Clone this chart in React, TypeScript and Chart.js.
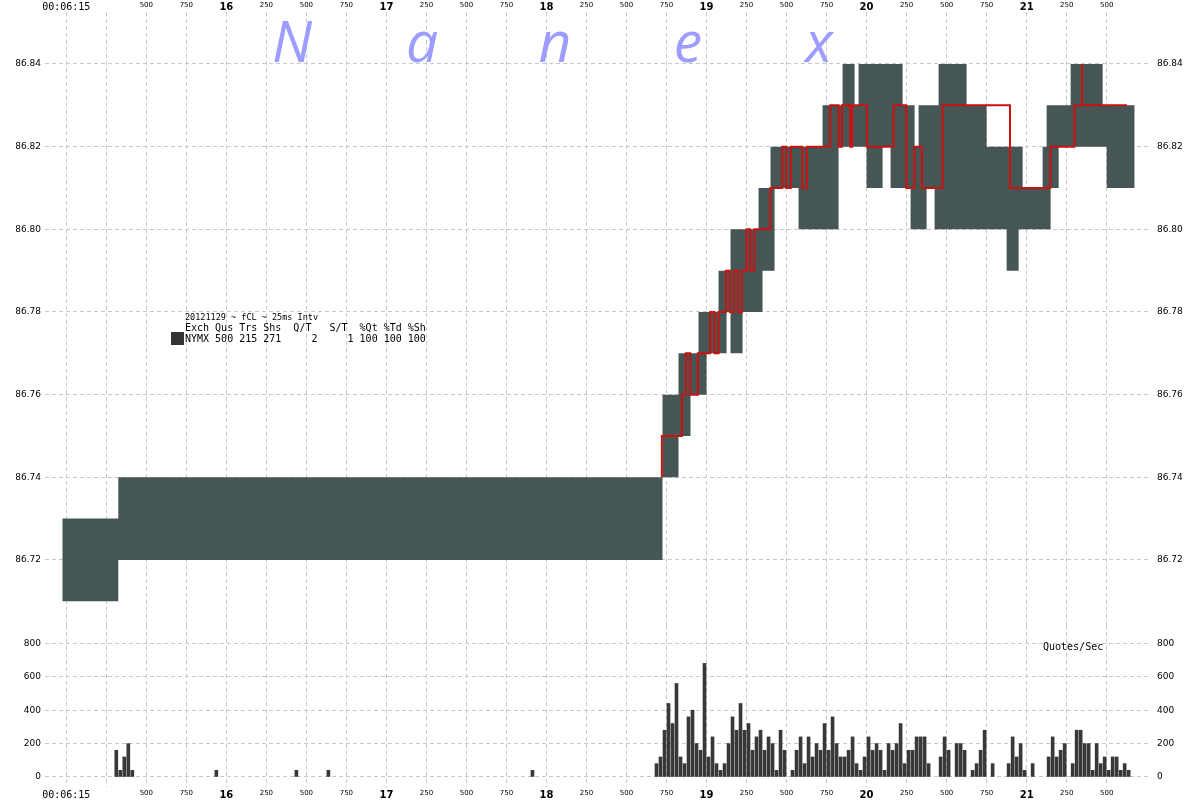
import React, { useEffect, useRef } from 'react';
import { Chart, registerables } from 'chart.js';

Chart.register(...registerables);

// ---- data (time in ms after 00:06:15.000) ----
const X_TICKS_MS = [0, 250, 500, 750, 1000, 1250, 1500, 1750, 2000, 2250, 2500, 2750, 3000, 3250, 3500, 3750, 4000, 4250, 4500, 4750, 5000, 5250, 5500, 5750, 6000, 6250, 6500];
const PRICE_TICKS = [86.72, 86.74, 86.76, 86.78, 86.8, 86.82, 86.84];
const QPS_TICKS = [0, 200, 400, 600, 800];

// quote range blocks (25ms buckets): start time, high, low
const blockStartMs = [-25, 325, 3725, 3825, 3900, 3950, 4000, 4075, 4125, 4150, 4225, 4325, 4350, 4400, 4425, 4575, 4725, 4825, 4850, 4925, 4950, 5000, 5100, 5150, 5225, 5275, 5300, 5325, 5375, 5425, 5450, 5625, 5750, 5875, 5950, 5975, 6100, 6125, 6150, 6200, 6275, 6475, 6500];
const blockHigh = [86.73, 86.74, 86.76, 86.77, 86.77, 86.78, 86.78, 86.79, 86.79, 86.8, 86.8, 86.81, 86.81, 86.82, 86.82, 86.82, 86.83, 86.83, 86.84, 86.83, 86.84, 86.84, 86.84, 86.84, 86.83, 86.83, 86.82, 86.83, 86.83, 86.83, 86.84, 86.83, 86.82, 86.82, 86.82, 86.81, 86.82, 86.83, 86.83, 86.83, 86.84, 86.83, 86.83];
const blockLow = [86.71, 86.72, 86.74, 86.75, 86.76, 86.76, 86.77, 86.77, 86.78, 86.77, 86.78, 86.78, 86.79, 86.79, 86.81, 86.8, 86.8, 86.82, 86.82, 86.82, 86.82, 86.81, 86.82, 86.81, 86.81, 86.8, 86.8, 86.8, 86.81, 86.8, 86.8, 86.8, 86.8, 86.79, 86.8, 86.8, 86.8, 86.8, 86.81, 86.82, 86.82, 86.82, 86.81];
const blockEndMs = 6675;

// trades (step line)
const tradeMs = [3721, 3721, 3846, 3871, 3898, 3946, 4023, 4050, 4075, 4121, 4146, 4171, 4196, 4221, 4250, 4273, 4298, 4398, 4473, 4498, 4527, 4598, 4627, 4773, 4825, 4846, 4898, 4910, 5002, 5169, 5248, 5298, 5346, 5475, 5896, 6148, 6298, 6346, 6346, 6627];
const tradePrice = [86.74, 86.75, 86.76, 86.77, 86.76, 86.77, 86.78, 86.77, 86.78, 86.79, 86.78, 86.79, 86.78, 86.79, 86.8, 86.79, 86.8, 86.81, 86.82, 86.81, 86.82, 86.81, 86.82, 86.83, 86.82, 86.83, 86.82, 86.83, 86.82, 86.83, 86.81, 86.82, 86.81, 86.83, 86.81, 86.82, 86.83, 86.84, 86.83, 86.83];

// quotes per second, per 25ms bucket (bucket start time)
const quoteMs = [300, 325, 350, 375, 400, 925, 1425, 1625, 2900,
  3675, 3700, 3725, 3750, 3775, 3800, 3825, 3850, 3875, 3900, 3925, 3950, 3975, 4000, 4025, 4050, 4075, 4100, 4125, 4150, 4175, 4200, 4225, 4250, 4275, 4300, 4325, 4350, 4375, 4400, 4425, 4450, 4475,
  4525, 4550, 4575, 4600, 4625, 4650, 4675, 4700, 4725, 4750, 4775, 4800, 4825, 4850, 4875, 4900, 4925, 4950, 4975, 5000, 5025, 5050, 5075, 5100, 5125, 5150, 5175, 5200, 5225, 5250, 5275, 5300, 5325, 5350, 5375,
  5450, 5475, 5500, 5550, 5575, 5600, 5650, 5675, 5700, 5725, 5775,
  5875, 5900, 5925, 5950, 5975, 6025, 6125, 6150, 6175, 6200, 6225,
  6275, 6300, 6325, 6350, 6375, 6400, 6425, 6450, 6475, 6500, 6525, 6550, 6575, 6600, 6625];
const quotesPerSec = [160, 40, 120, 200, 40, 40, 40, 40, 40,
  80, 120, 280, 440, 320, 560, 120, 80, 360, 400, 200, 160, 680, 120, 240, 80, 40, 80, 200, 360, 280, 440, 280, 320, 160, 240, 280, 160, 240, 200, 40, 280, 160,
  40, 160, 240, 80, 240, 120, 200, 160, 320, 160, 360, 200, 120, 120, 160, 240, 80, 40, 120, 240, 160, 200, 160, 40, 200, 160, 200, 320, 80, 160, 160, 240, 240, 240, 80,
  120, 240, 160, 200, 200, 160, 40, 80, 160, 280, 80,
  80, 240, 120, 200, 40, 80, 120, 240, 120, 160, 200,
  80, 280, 280, 200, 200, 40, 200, 80, 120, 40, 120, 120, 40, 80, 40];

const WATERMARK = ['N', 'a', 'n', 'e', 'x'];
const LEGEND_TITLE = '20121129 ~ fCL ~ 25ms Intv';
const LEGEND_HEAD = 'Exch Qus Trs Shs  Q/T   S/T  %Qt %Td %Sh';
const LEGEND_ROW = 'NYMX 500 215 271     2     1 100 100 100';

// ---- layout constants ----
const X_MIN = -133;
const X_MAX = 6777;
const PRICE_MIN = 86.70426;
const PRICE_MAX = 86.85258;
const QPS_MIN = -60;
const QPS_MAX = 910;
const GRID = '#c8c8c8';
const DASH = [4, 3];

const zeroPad = (s: any) => { s.paddingTop = 0; s.paddingBottom = 0; s.paddingLeft = 0; s.paddingRight = 0; };

const xLabel = (v: number) => {
  if (v === 0) return '00:06:15';
  if (v === 250) return '';
  if (v % 1000 === 0) return String(15 + v / 1000);
  return String(v % 1000);
};
const xFont = (ctx: any) => {
  const v = ctx.tick ? ctx.tick.value : 1;
  if (v === 0) return { family: 'DejaVu Sans Mono', size: 10 };
  if (v % 1000 === 0) return { family: 'DejaVu Sans', size: 10, weight: 'bold' };
  return { family: 'DejaVu Sans', size: 7 };
};

const xAxis = (position: 'top' | 'bottom', height: number, padding: number) => ({
  type: 'linear',
  position,
  min: X_MIN,
  max: X_MAX,
  offset: false,
  afterBuildTicks: (s: any) => { s.ticks = X_TICKS_MS.map((v) => ({ value: v })); },
  afterFit: (s: any) => { s.height = height; zeroPad(s); },
  grid: { color: GRID, lineWidth: 1, drawTicks: false, offset: false },
  border: { display: false, dash: DASH },
  ticks: {
    autoSkip: false, maxRotation: 0, minRotation: 0, padding,
    crossAlign: position === 'top' ? 'far' : 'near',
    color: '#000',
    font: xFont,
    callback: (v: any) => xLabel(Number(v)),
  },
});

const yAxis = (position: 'left' | 'right', min: number, max: number, ticks: number[], fmt: (v: number) => string, showGrid: boolean) => ({
  type: 'linear',
  position,
  min, max,
  afterBuildTicks: (s: any) => { s.ticks = ticks.map((v) => ({ value: v })); },
  afterFit: (s: any) => { s.width = position === 'left' ? 45 : 49; zeroPad(s); },
  grid: { display: showGrid, color: GRID, lineWidth: 1, drawTicks: false },
  border: { display: false, dash: DASH },
  ticks: {
    padding: position === 'left' ? 4 : 6,
    color: '#000',
    font: { family: 'DejaVu Sans', size: 9 },
    callback: (v: any) => fmt(Number(v)),
  },
});

const topPlugin = {
  id: 'nanexDecor',
  beforeDatasetsDraw(chart: any) {
    const ctx = chart.ctx;
    ctx.save();
    ctx.fillStyle = '#9d9dff';
    ctx.font = 'italic 57px "Open Sans"';
    ctx.textAlign = 'center';
    ctx.textBaseline = 'alphabetic';
    const centers = [292, 422, 555, 688, 819];
    WATERMARK.forEach((ch, i) => ctx.fillText(ch, centers[i], 62));
    ctx.restore();
  },
  afterDatasetsDraw(chart: any) {
    const ctx = chart.ctx;
    ctx.save();
    ctx.fillStyle = '#000';
    ctx.textAlign = 'left';
    ctx.textBaseline = 'alphabetic';
    ctx.font = '8.5px "DejaVu Sans Mono"';
    ctx.fillText(LEGEND_TITLE, 185, 320);
    ctx.font = '10px "DejaVu Sans Mono"';
    ctx.fillText(LEGEND_HEAD, 185, 331);
    ctx.fillText(LEGEND_ROW, 185, 342);
    ctx.fillStyle = '#333333';
    ctx.fillRect(171, 332, 13, 13);
    ctx.restore();
  },
};

const bottomPlugin = {
  id: 'qpsLabel',
  afterDatasetsDraw(chart: any) {
    const ctx = chart.ctx;
    ctx.save();
    ctx.fillStyle = '#000';
    ctx.font = '10px "DejaVu Sans Mono"';
    ctx.textAlign = 'left';
    ctx.textBaseline = 'alphabetic';
    ctx.fillText('Quotes/Sec', 1043, 25);
    ctx.restore();
  },
};

export default function App() {
  const topRef = useRef<HTMLCanvasElement>(null);
  const botRef = useRef<HTMLCanvasElement>(null);

  useEffect(() => {
    const hi = blockStartMs.map((t, i) => ({ x: t, y: blockHigh[i] }));
    hi.push({ x: blockEndMs, y: blockHigh[blockHigh.length - 1] });
    const lo = blockStartMs.map((t, i) => ({ x: t, y: blockLow[i] }));
    lo.push({ x: blockEndMs, y: blockLow[blockLow.length - 1] });
    const trades = tradeMs.map((t, i) => ({ x: t, y: tradePrice[i] }));

    const top = new Chart(topRef.current as HTMLCanvasElement, {
      type: 'line',
      data: {
        datasets: [
          { label: 'trades', data: trades, stepped: true, borderColor: '#cc1111', borderWidth: 2, pointRadius: 0, fill: false, order: 0 } as any,
          { label: 'high', data: hi, stepped: true, borderWidth: 0, borderColor: 'rgba(0,0,0,0)', pointRadius: 0, backgroundColor: '#465555', fill: '+1', order: 1 } as any,
          { label: 'low', data: lo, stepped: true, borderWidth: 0, borderColor: 'rgba(0,0,0,0)', pointRadius: 0, fill: false, order: 2 } as any,
        ],
      },
      options: {
        animation: false,
        responsive: false,
        devicePixelRatio: 1,
        layout: { padding: 0 },
        parsing: false as any,
        plugins: { legend: { display: false }, tooltip: { enabled: false } },
        scales: {
          x: xAxis('top', 12, -1) as any,
          y: yAxis('left', PRICE_MIN, PRICE_MAX, PRICE_TICKS, (v) => v.toFixed(2), true) as any,
          y2: yAxis('right', PRICE_MIN, PRICE_MAX, PRICE_TICKS, (v) => v.toFixed(2), false) as any,
        },
      },
      plugins: [topPlugin],
    });

    const bars = quoteMs.map((t, i) => ({ x: t + 12.5, y: quotesPerSec[i] }));
    const bot = new Chart(botRef.current as HTMLCanvasElement, {
      type: 'bar',
      data: {
        datasets: [
          { label: 'Quotes/Sec', data: bars, backgroundColor: '#383838', borderWidth: 0, barThickness: 3 } as any,
        ],
      },
      options: {
        animation: false,
        responsive: false,
        devicePixelRatio: 1,
        layout: { padding: 0 },
        parsing: false as any,
        plugins: { legend: { display: false }, tooltip: { enabled: false } },
        scales: {
          x: xAxis('bottom', 13, 2) as any,
          y: yAxis('left', QPS_MIN, QPS_MAX, QPS_TICKS, (v) => String(v), true) as any,
          y2: yAxis('right', QPS_MIN, QPS_MAX, QPS_TICKS, (v) => String(v), false) as any,
        },
      },
      plugins: [bottomPlugin],
    });

    return () => { top.destroy(); bot.destroy(); };
  }, []);

  return (
    <div style={{ position: 'fixed', left: 0, top: 0, width: 1200, height: 800, background: '#fff' }}>
      <canvas ref={topRef} width={1200} height={625} style={{ position: 'absolute', left: 0, top: 0, width: 1200, height: 625 }} />
      <canvas ref={botRef} width={1200} height={175} style={{ position: 'absolute', left: 0, top: 625, width: 1200, height: 175 }} />
    </div>
  );
}
